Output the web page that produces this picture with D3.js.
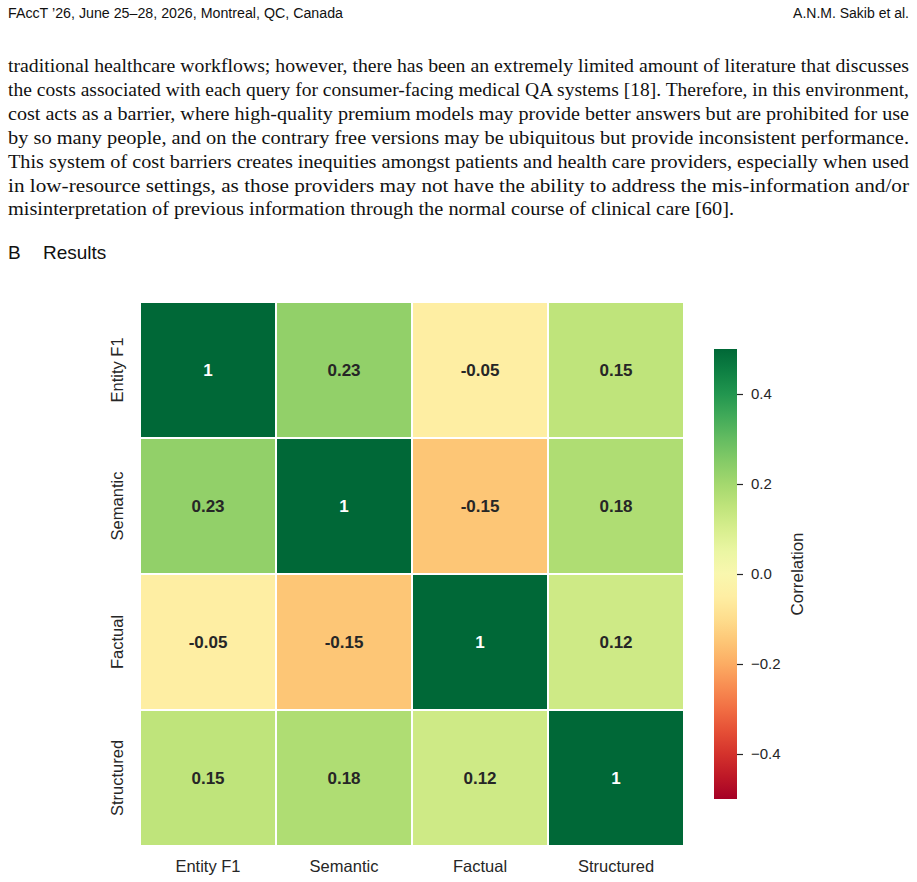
<!DOCTYPE html>
<html>
<head>
<meta charset="utf-8">
<script src="https://cdn.jsdelivr.net/npm/d3@7"></script>
<style>
  body { margin: 0; background: #fff; }
  svg { display: block; }
</style>
</head>
<body>
<svg width="917" height="882"></svg>
<script>
// page text
const headerLeft = "FAccT \u201926, June 25\u201328, 2026, Montreal, QC, Canada";
const headerRight = "A.N.M. Sakib et al.";
const bodyLines = [
  "traditional healthcare workflows; however, there has been an extremely limited amount of literature that discusses",
  "the costs associated with each query for consumer-facing medical QA systems [18]. Therefore, in this environment,",
  "cost acts as a barrier, where high-quality premium models may provide better answers but are prohibited for use",
  "by so many people, and on the contrary free versions may be ubiquitous but provide inconsistent performance.",
  "This system of cost barriers creates inequities amongst patients and health care providers, especially when used",
  "in low-resource settings, as those providers may not have the ability to address the mis-information and/or",
  "misinterpretation of previous information through the normal course of clinical care [60]."
];

// heatmap data
const metrics = ["Entity F1", "Semantic", "Factual", "Structured"];
const entityF1Row = [1, 0.23, -0.05, 0.15];
const semanticRow = [0.23, 1, -0.15, 0.18];
const factualRow = [-0.05, -0.15, 1, 0.12];
const structuredRow = [0.15, 0.18, 0.12, 1];
const colorTicks = [-0.4, -0.2, 0.0, 0.2, 0.4];

const rows = [entityF1Row, semanticRow, factualRow, structuredRow];
const cells = rows.flatMap((r, i) => r.map((v, j) => ({ row: metrics[i], col: metrics[j], value: v })));

const svg = d3.select("svg");

// header
svg.append("text").attr("x", 8).attr("y", 18)
  .style("font-family", "'Liberation Sans', sans-serif")
  .style("font-size", "14px").attr("fill", "#111")
  .attr("textLength", 335).attr("lengthAdjust", "spacingAndGlyphs")
  .text(headerLeft);
svg.append("text").attr("x", 909).attr("y", 18).attr("text-anchor", "end")
  .style("font-family", "'Liberation Sans', sans-serif")
  .style("font-size", "14px").attr("fill", "#111").text(headerRight);

// paragraph, justified line by line
svg.append("g").selectAll("text")
  .data(bodyLines)
  .enter()
  .append("text")
  .attr("x", 8)
  .attr("y", (d, i) => 72 + i * 23.9)
  .attr("textLength", (d, i) => i < bodyLines.length - 1 ? 901 : 726)
  .attr("lengthAdjust", "spacingAndGlyphs")
  .style("font-family", "'Liberation Serif', serif")
  .style("font-size", "18.5px")
  .attr("fill", "#111")
  .text(d => d);

// section heading
const heading = svg.append("g").style("font-family", "'Liberation Sans', sans-serif")
  .style("font-size", "19px").attr("fill", "#111");
heading.append("text").attr("x", 8).attr("y", 259).text("B");
heading.append("text").attr("x", 43).attr("y", 259).text("Results");

// heatmap
const hmLeft = 140, hmTop = 302, hmSize = 544;
const x = d3.scaleBand().domain(metrics).range([hmLeft, hmLeft + hmSize]);
const y = d3.scaleBand().domain(metrics).range([hmTop, hmTop + hmSize]);
const color = d3.scaleSequential(d3.interpolateRdYlGn).domain([-0.5, 0.5]).clamp(true);

const chart = svg.append("g").style("font-family", "'Liberation Sans', Arial, sans-serif");

chart.selectAll(".cell")
  .data(cells)
  .enter()
  .append("rect")
  .classed("cell", true)
  .attr("x", d => x(d.col))
  .attr("y", d => y(d.row))
  .attr("width", x.bandwidth())
  .attr("height", y.bandwidth())
  .attr("fill", d => color(d.value))
  .attr("stroke", "#fff")
  .attr("stroke-width", 2);

chart.selectAll(".annot")
  .data(cells)
  .enter()
  .append("text")
  .classed("annot", true)
  .attr("x", d => x(d.col) + x.bandwidth() / 2)
  .attr("y", d => y(d.row) + y.bandwidth() / 2)
  .attr("text-anchor", "middle")
  .attr("dominant-baseline", "central")
  .style("font-size", "17px")
  .style("font-weight", "bold")
  .attr("fill", d => d.value > 0.35 ? "#fff" : "#262626")
  .text(d => String(d.value));

// axis labels
chart.selectAll(".xlab")
  .data(metrics)
  .enter()
  .append("text")
  .attr("x", d => x(d) + x.bandwidth() / 2)
  .attr("y", 872)
  .attr("text-anchor", "middle")
  .style("font-size", "16.5px")
  .attr("fill", "#262626")
  .text(d => d);

chart.selectAll(".ylab")
  .data(metrics)
  .enter()
  .append("text")
  .attr("transform", d => `translate(123,${y(d) + y.bandwidth() / 2}) rotate(-90)`)
  .attr("text-anchor", "middle")
  .style("font-size", "16.5px")
  .attr("fill", "#262626")
  .text(d => d);

// colorbar
const cbX = 714, cbW = 23, cbTop = 349, cbBottom = 799;
const cbScale = d3.scaleLinear().domain([-0.5, 0.5]).range([cbBottom, cbTop]);
const grad = svg.append("defs").append("linearGradient")
  .attr("id", "cbgrad").attr("x1", 0).attr("y1", 1).attr("x2", 0).attr("y2", 0);
d3.range(0, 1.0001, 0.05).forEach(t => {
  grad.append("stop").attr("offset", t).attr("stop-color", d3.interpolateRdYlGn(t));
});
chart.append("rect")
  .attr("x", cbX).attr("y", cbTop)
  .attr("width", cbW).attr("height", cbBottom - cbTop)
  .attr("fill", "url(#cbgrad)");

const cbAxis = chart.append("g")
  .attr("transform", `translate(${cbX + cbW},0)`)
  .call(d3.axisRight(cbScale).tickValues(colorTicks).tickSize(6).tickPadding(8)
    .tickFormat(d => d3.format(".1f")(d)));
cbAxis.select(".domain").remove();
cbAxis.selectAll("line").attr("stroke", "#262626").attr("stroke-width", 1.2);
cbAxis.selectAll("text")
  .style("font-family", "'Liberation Sans', Arial, sans-serif")
  .style("font-size", "15px").attr("fill", "#262626");

chart.append("text")
  .attr("transform", `translate(803,${(cbTop + cbBottom) / 2}) rotate(-90)`)
  .attr("text-anchor", "middle")
  .style("font-size", "17px")
  .attr("fill", "#262626")
  .text("Correlation");
</script>
</body>
</html>
